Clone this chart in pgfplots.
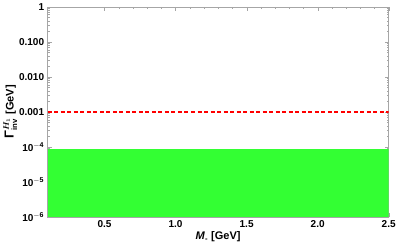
\documentclass[border=0pt]{standalone}
\usepackage{amsmath}
\usepackage{bm}
\usepackage{pgfplots}
\pgfplotsset{compat=1.18}
\usepackage{fontspec}
\setmainfont{Liberation Sans}
\definecolor{mgreen}{RGB}{0,255,0}
\begin{document}
\begin{tikzpicture}
\begin{axis}[
  scale only axis,
  width=339bp, height=209bp,
  xmin=0.1, xmax=2.5,
  ymode=log, ymin=1e-6, ymax=1,
  xtick={0.5,1.0,1.5,2.0,2.5},
  xticklabels={0.5,1.0,1.5,2.0,2.5},
  minor x tick num=4,
  ytick={1e-6,1e-5,1e-4,1e-3,1e-2,1e-1,1},
  yticklabels={10\textsuperscript{$-$6},10\textsuperscript{$-$5},10\textsuperscript{$-$4},0.001,0.010,0.100,1},
  tick align=inside,
  major tick length=4pt, minor tick length=2pt,
  axis line style={gray!70},
  tick style={gray!70},
  ticklabel style={font=\fontsize{10}{11}\selectfont\bfseries, black},
  xlabel={\textit{M}\textsubscript{-} [GeV]},
  ylabel={{\fontsize{13}{14}\selectfont Γ}$^{\bm{H_1}}_{\textbf{inv}}$ [GeV]},
  label style={font=\fontsize{11}{12}\selectfont\bfseries},
  xlabel style={yshift=3pt},
  ylabel style={yshift=-5pt},
  clip=true,
]
\addplot[draw=none, fill=mgreen!80!white] coordinates {(0.1,1e-6) (2.5,1e-6) (2.5,9e-5) (0.1,9e-5)} -- cycle;
\addplot[red, line width=1.7pt, dash pattern=on 4pt off 2.5pt] coordinates {(0.1,1e-3) (2.5,1e-3)};
\end{axis}
\end{tikzpicture}
\end{document}
